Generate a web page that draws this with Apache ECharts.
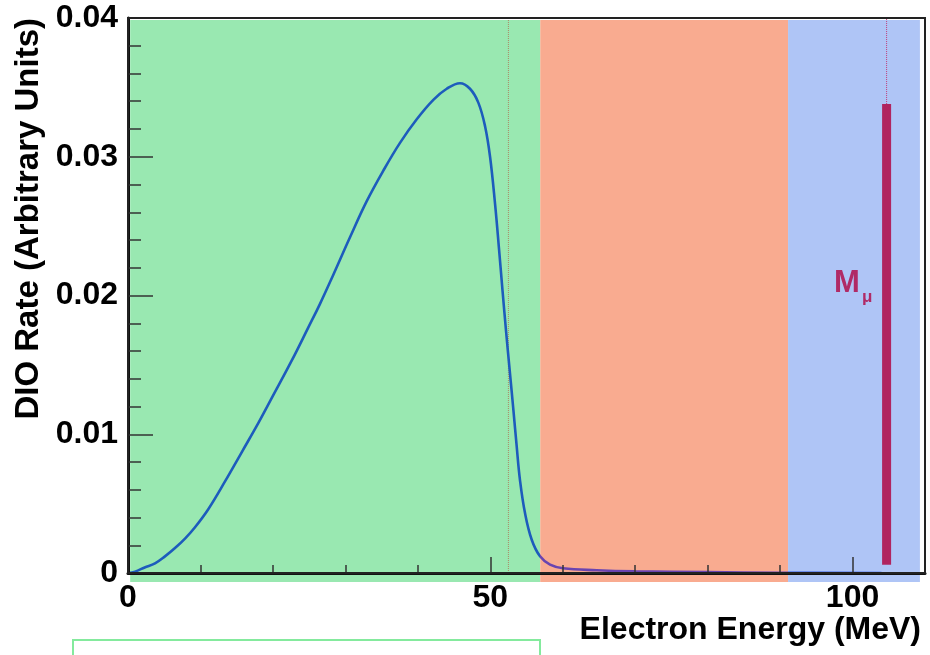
<!DOCTYPE html>
<html><head><meta charset="utf-8">
<script src="https://cdn.jsdelivr.net/npm/echarts@6/dist/echarts.min.js"></script>
<style>html,body{margin:0;padding:0;background:#fff}#c{width:930px;height:655px}</style>
</head><body><div id="c"></div>
<script>
// ---- data ----
const energy = [0, 0.97, 2.3, 3.73, 5.1, 6.49, 7.9, 9.25, 11.08, 13.39, 15.69, 17.98, 19.83, 22.59, 24.89, 26.5, 28.34, 30.64, 32.95, 35.24, 37.54, 39.85, 42.14, 43.99, 45.82, 47.2, 48.35, 49.28, 49.97, 50.66, 51.2, 51.7, 52.2, 52.7, 53.2, 53.65, 54.1, 54.8, 55.72, 56.87, 58.25, 60.04, 64.69, 70, 80, 90, 104];
const rate = [0, 0.0001, 0.0004, 0.0007, 0.0012, 0.0018, 0.0025, 0.0033, 0.0046, 0.0066, 0.0087, 0.0108, 0.0126, 0.0153, 0.0177, 0.0194, 0.0215, 0.0242, 0.0268, 0.0290, 0.0310, 0.0327, 0.0341, 0.0349, 0.0353, 0.0349, 0.0339, 0.0322, 0.0300, 0.0266, 0.0234, 0.0203, 0.0173, 0.0145, 0.0117, 0.0091, 0.0067, 0.0043, 0.0024, 0.0012, 0.0006, 0.00034, 0.0002, 0.00012, 0.00006, 0.00002, 0];
const bandEdges = [0.3, 56.9, 91.1, 109.3];
const xTickLabels = [0, 50, 100];
const yTickLabels = [0, 0.01, 0.02, 0.03, 0.04];
const michelEdge = 52.5;
const muonMass = 104.7;
const muonBar = [0.0006, 0.0338];
const xRange = [0, 110];
const yRange = [0, 0.04];

// ---- chart ----
const chart = echarts.init(document.getElementById('c'), null, {renderer: 'canvas'});
const FONT = '"Liberation Sans", Arial, Helvetica, sans-serif';
const curve = energy.map((e, i) => [e, rate[i]]);

const gridMain = {left: 128, right: 5, top: 18, bottom: 82};
const option = {
  animation: false,
  backgroundColor: '#fff',
  grid: [
    Object.assign({show: true, borderColor: '#222', borderWidth: 2, backgroundColor: 'transparent', z: 6}, gridMain),
    {left: 128, right: 5, top: 20, bottom: 73},
    {left: 540, right: 142, top: 20, bottom: 73},
    Object.assign({}, gridMain)
  ],
  xAxis: [
    {gridIndex: 0, type: 'value', min: xRange[0], max: xRange[1], interval: 50, z: 5,
     axisLine: {show: true, onZero: false, lineStyle: {color: '#111', width: 3}},
     axisTick: {show: true, inside: true, length: 16, lineStyle: {color: '#333', width: 1.5}},
     axisLabel: {show: true, margin: 9, color: '#000', fontFamily: FONT, fontWeight: 'bold', fontSize: 32,
       formatter: v => xTickLabels.includes(v) ? String(v) : ''},
     splitLine: {show: false}},
    {gridIndex: 1, type: 'value', min: xRange[0], max: xRange[1], interval: 6, z: 1,
     axisLine: {show: false}, axisTick: {show: false}, axisLabel: {show: false},
     splitLine: {show: true, lineStyle: {color: 'rgba(255,255,255,0.35)', type: 'dashed', width: 1}}},
    {gridIndex: 2, type: 'value', min: 0, max: 20, interval: 1, z: 1,
     axisLine: {show: false}, axisTick: {show: false}, axisLabel: {show: false},
     splitLine: {show: true, lineStyle: {color: 'rgba(255,235,225,0.35)', width: 4}}},
    {gridIndex: 3, type: 'value', min: xRange[0], max: xRange[1], interval: 10, z: 5,
     axisLine: {show: false}, axisLabel: {show: false}, splitLine: {show: false},
     axisTick: {show: true, inside: true, length: 8, lineStyle: {color: '#333', width: 1.5}}}
  ],
  yAxis: [
    {gridIndex: 0, type: 'value', min: yRange[0], max: yRange[1], interval: 0.01, z: 5,
     axisLine: {show: true, onZero: false, lineStyle: {color: '#111', width: 3}},
     axisTick: {show: true, inside: true, length: 25, lineStyle: {color: '#333', width: 1.5}},
     minorTick: {show: true, splitNumber: 5, length: 13, lineStyle: {color: '#333', width: 1.5}},
     axisLabel: {show: true, margin: 10, color: '#000', fontFamily: FONT, fontWeight: 'bold', fontSize: 32,
       padding: [8, 0, 0, 0],
       formatter: v => yTickLabels.some(t => Math.abs(t - v) < 1e-9) ? (v === 0 ? '0' : v.toFixed(2)) : ''},
     splitLine: {show: false}},
    {gridIndex: 1, type: 'value', min: 0, max: 1, interval: 0.1, z: 1,
     axisLine: {show: false}, axisTick: {show: false}, axisLabel: {show: false},
     splitLine: {show: true, lineStyle: {color: 'rgba(255,255,255,0.35)', type: 'dashed', width: 1}}},
    {gridIndex: 2, type: 'value', min: 0, max: 1, show: false},
    {gridIndex: 3, type: 'value', min: yRange[0], max: yRange[1], show: false}
  ],
  visualMap: {
    type: 'piecewise', show: false, dimension: 0, seriesIndex: 1,
    pieces: [
      {lt: bandEdges[1], color: '#1d5cbc'},
      {gte: bandEdges[1], lt: bandEdges[2], color: '#6a44b0'},
      {gte: bandEdges[2], color: '#2a55e6'}
    ]
  },
  series: [
    {type: 'line', xAxisIndex: 1, yAxisIndex: 1, data: [], z: 0, silent: true,
     markArea: {silent: true, data: [
       [{xAxis: bandEdges[0], itemStyle: {color: '#99e8b1', opacity: 1}}, {xAxis: bandEdges[1]}],
       [{xAxis: bandEdges[1], itemStyle: {color: '#f9ab90', opacity: 1}}, {xAxis: bandEdges[2]}],
       [{xAxis: bandEdges[2], itemStyle: {color: '#afc5f6', opacity: 1}}, {xAxis: bandEdges[3]}]
     ]}},
    {type: 'line', xAxisIndex: 0, yAxisIndex: 0, data: curve, showSymbol: false,
     smooth: 0.4, z: 3,
     lineStyle: {width: 2.6}},
    {type: 'line', xAxisIndex: 0, yAxisIndex: 0, showSymbol: false, z: 2,
     data: [[michelEdge, yRange[0]], [michelEdge, yRange[1]]],
     lineStyle: {color: '#b07050', width: 1, type: 'dotted', opacity: 0.8}},
    {type: 'line', xAxisIndex: 0, yAxisIndex: 0, showSymbol: false, z: 3,
     data: [[muonMass, muonBar[1]], [muonMass, yRange[1]]],
     lineStyle: {color: '#c0407a', width: 1, type: 'dotted'}},
    {type: 'line', xAxisIndex: 0, yAxisIndex: 0, showSymbol: false, z: 4,
     data: [[muonMass, muonBar[0]], [muonMass, muonBar[1]]],
     lineStyle: {color: '#b0245f', width: 9, cap: 'butt'}}
  ],
  graphic: [
    {type: 'text', x: 29, y: 18, rotation: Math.PI / 2, z: 10,
     style: {text: 'DIO Rate (Arbitrary Units)', font: 'bold 33px ' + FONT, fill: '#000', align: 'right', verticalAlign: 'middle'}},
    {type: 'text', x: 921, y: 630, z: 10,
     style: {text: 'Electron Energy (MeV)', font: 'bold 32px ' + FONT, fill: '#000', align: 'right', verticalAlign: 'middle'}},
    {type: 'text', x: 834, y: 283, z: 10,
     style: {text: 'M', font: 'bold 31px ' + FONT, fill: '#b02a66', align: 'left', verticalAlign: 'middle'}},
    {type: 'text', x: 862, y: 297, z: 10,
     style: {text: 'μ', font: 'bold 17px ' + FONT, fill: '#b02a66', align: 'left', verticalAlign: 'middle'}},
    {type: 'rect', z: 10, shape: {x: 73, y: 640, width: 467, height: 40},
     style: {fill: 'none', stroke: '#84ea9d', lineWidth: 2}}
  ]
};
chart.setOption(option);
</script>
</body></html>
